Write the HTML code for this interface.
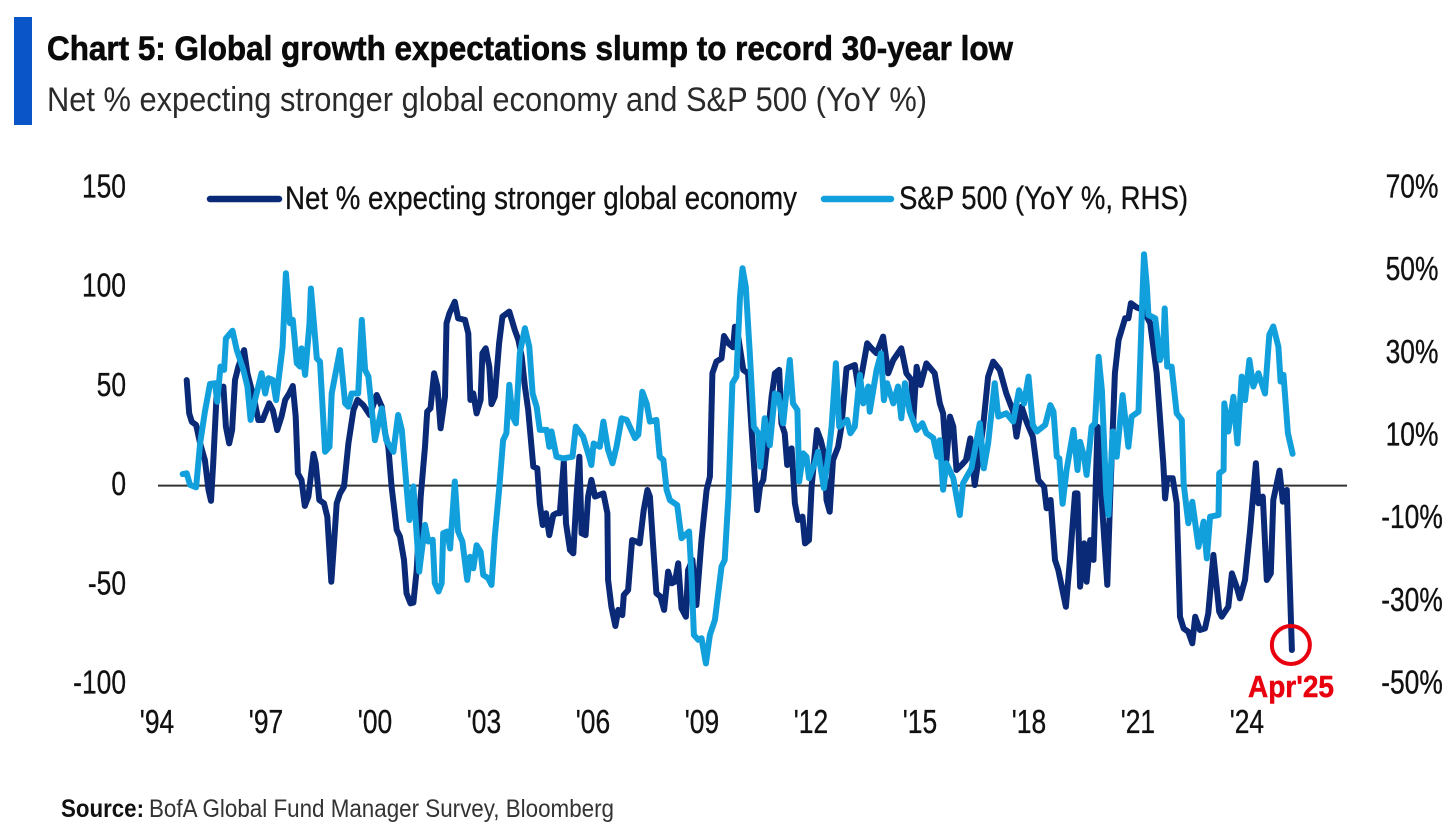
<!DOCTYPE html>
<html lang="en">
<head>
<meta charset="utf-8">
<title>Chart 5: Global growth expectations slump to record 30-year low</title>
<style>
html,body{margin:0;padding:0;background:#fff;width:1456px;height:840px;overflow:hidden}
svg{display:block}
text{font-family:"Liberation Sans",sans-serif;fill:#111}
</style>
</head>
<body>
<svg id="chart" width="1456" height="840" viewBox="0 0 1456 840" xmlns="http://www.w3.org/2000/svg">
  <rect x="0" y="0" width="1456" height="840" fill="#fff"/>
  <rect x="14" y="17" width="18" height="108" fill="#0a55c8"/>
  <text x="47" y="60" font-size="34" font-weight="700" textLength="966" lengthAdjust="spacingAndGlyphs" style="fill:#0a0a0a;stroke:#0a0a0a;stroke-width:0.6">Chart 5: Global growth expectations slump to record 30-year low</text>
  <text x="47" y="111" font-size="34" textLength="880" lengthAdjust="spacingAndGlyphs" style="fill:#2a2a2a">Net % expecting stronger global economy and S&amp;P 500 (YoY %)</text>

  <g id="axis-left"></g>
  <g id="axis-right"></g>
  <g id="axis-x"></g>
  <line id="zero-line" stroke="#333" stroke-width="2"/>
  <path id="line-net" fill="none" stroke="#0a2a78" stroke-width="6" stroke-linejoin="round" stroke-linecap="round"/>
  <path id="line-spx" fill="none" stroke="#12a0dc" stroke-width="6" stroke-linejoin="round" stroke-linecap="round"/>
  <circle id="latest-circle" r="19" fill="none" stroke="#e8000f" stroke-width="4"/>
  <text x="1248" y="697" font-size="31" font-weight="700" textLength="86" lengthAdjust="spacingAndGlyphs" style="fill:#e8000f;stroke:#e8000f;stroke-width:0.5">Apr'25</text>

  <g>
    <g>
      <line x1="210" y1="199" x2="279" y2="199" stroke="#0a2a78" stroke-width="6.5" stroke-linecap="round"/>
      <text x="285" y="209" font-size="32" textLength="512" lengthAdjust="spacingAndGlyphs" style="stroke:#111;stroke-width:0.3">Net % expecting stronger global economy</text>
    </g>
    <g>
      <line x1="824" y1="199" x2="891" y2="199" stroke="#12a0dc" stroke-width="6.5" stroke-linecap="round"/>
      <text x="899" y="209" font-size="32" textLength="289" lengthAdjust="spacingAndGlyphs" style="stroke:#111;stroke-width:0.3">S&amp;P 500 (YoY %, RHS)</text>
    </g>
  </g>

  <text x="61" y="817" font-size="25" font-weight="700" textLength="83" lengthAdjust="spacingAndGlyphs">Source:</text>
  <text x="149" y="817" font-size="25" textLength="465" lengthAdjust="spacingAndGlyphs" style="fill:#333">BofA Global Fund Manager Survey, Bloomberg</text>
</svg>
<script>
var leftTicks = [150, 100, 50, 0, -50, -100];
var rightTicks = [70, 50, 30, 10, -10, -30, -50];
var xTickYears = [1994, 1997, 2000, 2003, 2006, 2009, 2012, 2015, 2018, 2021, 2024];
var xTickLabels = ["'94", "'97", "'00", "'03", "'06", "'09", "'12", "'15", "'18", "'21", "'24"];

var netDates = [1994.79,1994.86,1994.93,1995.05,1995.16,1995.29,1995.39,1995.46,1995.52,1995.61,1995.69,1995.80,1995.87,1995.96,1996.04,1996.12,1996.21,1996.37,1996.46,1996.58,1996.67,1996.76,1996.88,1997.06,1997.16,1997.28,1997.40,1997.50,1997.61,1997.71,1997.79,1997.85,1997.95,1998.04,1998.14,1998.28,1998.34,1998.44,1998.57,1998.66,1998.77,1998.84,1998.92,1999.01,1999.12,1999.24,1999.38,1999.49,1999.65,1999.83,2000.02,2000.16,2000.25,2000.34,2000.43,2000.57,2000.66,2000.77,2000.84,2000.95,2001.03,2001.12,2001.23,2001.35,2001.41,2001.50,2001.60,2001.69,2001.78,
2001.90,2001.94,2002.02,2002.17,2002.26,2002.45,2002.54,2002.60,2002.68,2002.77,2002.88,2002.93,2003.02,2003.12,2003.18,2003.27,2003.39,2003.48,2003.67,2003.82,2003.92,2004.01,2004.10,2004.19,2004.33,2004.44,2004.51,2004.59,2004.68,2004.77,2004.88,2004.97,2005.06,2005.17,2005.23,2005.34,2005.43,2005.52,2005.60,2005.66,2005.77,2005.84,2005.93,2006.03,2006.26,2006.37,2006.39,2006.48,2006.59,2006.67,2006.78,2006.82,2006.94,2007.05,2007.17,2007.26,2007.37,2007.47,2007.54,2007.63,2007.72,2007.83,2007.93,2008.04,2008.14,2008.23,2008.32,2008.41,2008.53,2008.59,2008.71,2008.82,2008.96,2009.10,2009.19,2009.26,2009.37,2009.51,2009.58,2009.70,2009.83,2009.88,
2009.97,2010.11,2010.24,2010.34,2010.49,2010.57,2010.66,2010.75,2010.89,2010.98,2011.10,2011.16,2011.25,2011.32,2011.44,2011.53,2011.62,2011.74,2011.81,2011.92,2011.99,2012.14,2012.24,2012.35,2012.40,2012.49,2012.58,2012.72,2012.81,2012.95,2013.18,2013.27,2013.36,2013.52,2013.64,2013.78,2013.96,2014.10,2014.24,2014.46,2014.60,2014.74,2014.79,2014.88,2014.99,2015.15,2015.38,2015.52,2015.61,2015.70,2015.80,2015.89,2015.98,2016.12,2016.24,2016.36,2016.48,2016.57,2016.71,2016.85,2016.99,2017.17,2017.35,2017.54,2017.63,2017.77,2017.91,
2018.08,2018.23,2018.39,2018.46,2018.57,2018.69,2018.78,2018.99,2019.11,2019.24,2019.31,2019.38,2019.49,2019.56,2019.66,2019.75,2019.86,2019.98,2020.13,2020.21,2020.34,2020.44,2020.62,2020.71,2020.78,2020.94,2021.12,2021.31,2021.49,2021.67,2021.72,2021.78,2021.93,2022.04,2022.13,2022.23,2022.36,2022.47,2022.55,2022.68,2022.82,2022.91,2023.05,2023.21,2023.28,2023.46,2023.56,2023.69,2023.78,2023.92,2024.06,2024.22,2024.29,2024.41,2024.52,2024.63,2024.70,2024.87,2024.96,2025.07,2025.21];

var netValues = [53.2,36.4,32.2,30.6,21.3,12.9,-2.2,-7.6,11.3,44.8,48.2,49.9,29.7,21.3,28.0,53.2,59.9,68.3,56.6,48.2,41.5,33.1,33.1,41.5,38.1,28.0,34.8,43.2,46.5,50.2,34.8,6.2,2.9,-10.2,-5.5,16.0,11.3,-7.2,-8.9,-15.6,-48.4,-30.7,-8.9,-3.9,-0.5,21.3,38.1,43.2,40.6,35.6,45.7,39.8,26.4,19.6,-0.5,-22.3,-25.7,-37.4,-54.2,-59.3,-58.9,-42.5,-5.5,19.6,37.3,39.0,56.6,49.9,28.9,
44.8,81.8,86.8,92.7,84.3,83.5,76.7,43.2,46.5,36.4,43.2,66.7,69.2,59.9,41.1,44.8,71.7,85.1,87.7,78.4,73.4,65.0,49.9,38.1,9.6,8.7,-8.9,-19.8,-13.9,-24.9,-14.8,-13.9,-13.9,12.1,-19.0,-32.4,-34.1,-5.5,14.6,-24.0,-24.9,-5.5,2.9,-5.5,-3.9,-13.9,-47.5,-61.0,-70.7,-62.6,-65.2,-55.1,-52.6,-27.4,-28.2,-29.1,-12.3,-2.2,-5.5,-30.7,-54.2,-55.9,-62.6,-43.3,-49.2,-48.4,-39.1,-61.8,-66.0,-42.5,-37.4,-60.1,-27.4,-2.2,4.5,56.6,62.5,64.1,75.4,71.7,69.7,80.1,
75.1,58.3,56.6,28.0,-12.3,-0.5,2.9,18.0,44.8,56.6,58.3,31.4,26.4,10.4,18.8,-8.9,-17.3,-15.6,-29.1,-27.4,-0.5,28.0,23.0,14.6,-7.2,-13.1,12.9,19.6,29.7,59.1,60.8,49.9,54.9,71.7,69.2,66.7,75.1,56.6,63.3,69.2,56.6,53.2,33.1,59.9,50.7,61.6,56.6,41.5,36.4,12.9,34.8,29.7,7.9,10.4,12.9,23.8,0.3,11.3,29.7,54.9,62.5,58.3,46.5,37.3,24.7,39.8,32.0,
24.7,2.9,-0.5,-11.4,-7.2,-37.4,-42.5,-61.0,-35.8,-3.9,-3.9,-50.9,-29.1,-48.4,-27.4,-37.4,29.7,-9.0,-50.0,-5.5,56.6,73.4,84.3,84.3,91.9,89.8,88.5,81.8,56.6,11.3,-6.4,3.7,3.7,-8.9,-66.0,-71.9,-73.6,-79.4,-66.0,-72.7,-71.9,-64.3,-34.9,-63.5,-66.0,-61.0,-44.2,-50.9,-56.8,-47.5,-22.3,11.3,-8.9,-5.5,-47.5,-44.2,-7.2,7.6,-8.1,-2.2,-82.8];

var spxDates = [1994.68,1994.79,1994.88,1995.05,1995.16,1995.29,1995.43,1995.57,1995.63,1995.72,1995.82,1995.87,1996.05,1996.17,1996.35,1996.46,1996.55,1996.67,1996.85,1996.95,1997.04,1997.16,1997.25,1997.43,1997.52,1997.63,1997.71,1997.82,1997.91,1997.95,1998.05,1998.17,1998.21,1998.29,1998.37,1998.46,1998.60,1998.72,1998.78,1999.01,1999.15,1999.24,1999.33,1999.51,1999.61,1999.70,1999.79,1999.97,2000.16,2000.28,2000.48,2000.61,2000.71,2000.84,2000.92,2001.03,2001.19,2001.35,2001.44,2001.56,2001.62,2001.72,2001.81,
2001.85,2001.96,2002.04,2002.17,2002.26,2002.38,2002.51,2002.59,2002.68,2002.77,2002.88,2002.95,2003.09,2003.18,2003.27,2003.39,2003.50,2003.59,2003.67,2003.76,2003.85,2003.96,2004.10,2004.22,2004.31,2004.42,2004.51,2004.70,2004.77,2004.83,2004.97,2005.15,2005.41,2005.50,2005.70,2005.84,2005.93,2005.99,2006.16,2006.26,2006.39,2006.51,2006.62,2006.76,2006.90,2007.13,2007.22,2007.33,2007.45,2007.54,2007.72,2007.81,2007.91,2008.00,2008.09,2008.29,2008.41,2008.62,2008.69,2008.75,2008.87,2008.96,2009.08,2009.19,2009.33,2009.51,2009.60,2009.70,2009.81,
2009.92,2010.02,2010.09,2010.18,2010.29,2010.40,2010.52,2010.58,2010.70,2010.84,2010.98,2011.07,2011.21,2011.39,2011.48,2011.60,2011.65,2011.76,2011.85,2011.92,2012.08,2012.17,2012.33,2012.45,2012.54,2012.66,2012.75,2012.97,2013.06,2013.18,2013.32,2013.41,2013.55,2013.59,2013.78,2013.90,2013.98,2014.07,2014.24,2014.37,2014.46,2014.56,2014.69,2014.88,2015.04,2015.15,2015.34,2015.45,2015.52,2015.61,2015.70,2015.89,2016.07,2016.16,2016.39,2016.62,2016.73,2016.85,2017.03,2017.13,2017.35,2017.54,2017.70,
2017.84,2017.96,2018.08,2018.19,2018.42,2018.56,2018.65,2018.74,2018.81,2018.90,2019.01,2019.20,2019.31,2019.38,2019.49,2019.56,2019.70,2019.79,2019.89,2019.98,2020.10,2020.16,2020.28,2020.39,2020.55,2020.71,2020.80,2020.99,2021.08,2021.14,2021.22,2021.26,2021.45,2021.58,2021.67,2021.71,2021.78,2021.90,2022.04,2022.18,2022.23,2022.36,2022.47,2022.64,2022.78,2022.87,2022.96,2023.19,2023.21,2023.33,2023.35,2023.46,2023.60,2023.71,2023.83,2023.92,2024.04,2024.15,2024.29,2024.47,2024.59,2024.70,2024.84,2024.90,2024.98,2025.10,2025.23];

var spxValues = [0.3,0.5,-2.3,-2.9,7.7,15.4,22.1,22.3,17.8,26.3,25.5,33.1,35.0,30.3,25.5,21.5,13.4,18.2,24.7,19.8,23.5,23.1,18.2,31.1,48.9,36.8,37.6,27.1,26.3,30.7,24.3,36.8,45.2,36.8,28.3,27.5,5.7,6.9,19.8,30.3,17.4,16.6,19.8,19.8,37.6,25.5,23.9,8.5,16.2,8.5,5.7,14.6,11.0,-2.7,-10.8,-2.7,-23.3,-12.0,-16.0,-15.6,-26.1,-28.1,-26.1,
-14.0,-13.6,-17.7,-1.5,-13.6,-16.0,-25.3,-19.7,-22.5,-16.9,-18.5,-24.1,-24.9,-26.5,-14.8,-3.5,8.5,10.2,21.9,14.2,12.6,29.5,35.6,31.1,19.8,16.6,11.0,11.0,6.9,10.6,4.5,4.1,4.5,11.8,9.4,5.3,2.5,7.7,6.9,13.0,6.1,2.9,6.9,13.8,13.4,9.0,9.8,20.2,17.4,13.0,13.4,4.5,3.7,-3.5,-6.0,-7.2,-15.2,-13.6,-25.3,-38.6,-39.8,-39.4,-45.5,-38.6,-35.0,-22.1,-20.5,-5.2,22.3,
23.9,43.2,50.1,45.6,29.5,11.8,10.2,2.1,13.8,7.3,19.8,19.4,12.6,27.9,17.4,15.8,-1.5,5.3,4.5,-0.7,2.9,5.7,-3.1,4.5,11.8,27.1,11.8,13.4,10.2,11.8,24.3,17.4,21.5,15.4,25.5,29.5,18.2,22.3,17.4,21.5,13.8,22.3,15.4,11.0,12.6,10.2,9.0,4.5,8.5,-3.5,2.9,-0.7,-9.6,-1.9,1.7,12.6,1.7,7.7,22.3,14.2,15.0,13.0,20.6,
17.4,23.9,12.2,10.6,12.2,17.0,15.4,4.5,4.1,-6.9,1.3,11.0,1.3,8.1,4.5,0.1,11.8,12.6,28.7,20.6,-4.4,-9.6,10.6,4.5,19.4,6.9,14.2,15.4,39.2,53.5,45.6,38.8,38.0,27.9,31.1,40.4,26.3,26.3,15.0,13.4,-1.9,-11.6,-6.4,-17.3,-11.2,-20.1,-10.0,-9.6,0.5,1.3,17.4,10.6,19.0,7.7,23.9,18.2,27.9,21.5,24.7,19.8,34.0,36.0,31.1,22.7,24.3,10.2,5.2];

var SVG_NS = 'http://www.w3.org/2000/svg';
var chartSvg = document.getElementById('chart');

function xScale(year) { return 158 + (year - 1994) * 36.33; }
function yLeft(value) { return 485.67 - value * 1.985; }
function yRight(pct) { return 434 - (pct - 10) * 4.133; }

function linePath(dates, values, yScale) {
  var d = '';
  for (var i = 0; i < dates.length; i++) {
    d += (i ? 'L' : 'M') + xScale(dates[i]).toFixed(1) + ' ' + yScale(values[i]).toFixed(1);
  }
  return d;
}

function tickText(parent, label, x, y, anchor) {
  var t = document.createElementNS(SVG_NS, 'text');
  t.setAttribute('transform', 'translate(' + x + ',' + y + ') scale(0.8,1)');
  t.setAttribute('text-anchor', anchor);
  t.setAttribute('font-size', '33');
  t.setAttribute('style', 'stroke:#111;stroke-width:0.35');
  t.textContent = label;
  parent.appendChild(t);
  return t;
}

var axisLeft = document.getElementById('axis-left');
leftTicks.forEach(function (v) {
  var el = tickText(axisLeft, String(v), 126, yLeft(v) + 9.5, 'end');
  
  
});

var axisRight = document.getElementById('axis-right');
rightTicks.forEach(function (v) {
  var el = tickText(axisRight, v + '%', 1412, yRight(v) + 11.5, 'middle');
  
  
});

var axisX = document.getElementById('axis-x');
xTickYears.forEach(function (year, i) {
  var el = tickText(axisX, xTickLabels[i], xScale(year) - 1, 733, 'middle');
  
  
});

var zero = document.getElementById('zero-line');
zero.setAttribute('x1', xScale(1994));
zero.setAttribute('x2', 1347);
zero.setAttribute('y1', yLeft(0));
zero.setAttribute('y2', yLeft(0));

document.getElementById('line-net').setAttribute('d', linePath(netDates, netValues, yLeft));
document.getElementById('line-spx').setAttribute('d', linePath(spxDates, spxValues, yRight));

var lastIdx = netDates.length - 1;
var latest = document.getElementById('latest-circle');
latest.setAttribute('cx', xScale(netDates[lastIdx]) - 1);
latest.setAttribute('cy', yLeft(netValues[lastIdx]) - 5);
</script>
</body>
</html>
